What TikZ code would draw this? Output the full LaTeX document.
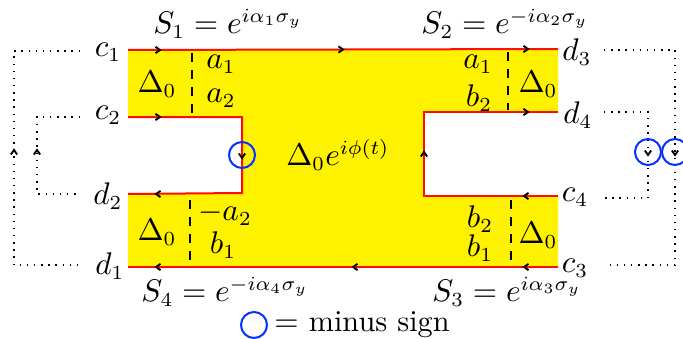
\documentclass[tikz,border=0pt]{standalone}
\begin{document}
\begin{tikzpicture}[x=0.35pt,y=-0.35pt,
  edge/.style={red!90!orange, line width=0.7pt},
  loop/.style={dotted, line width=0.5pt},
  divider/.style={dashed, line width=0.6pt},
  sign/.style={draw=blue!80!cyan, line width=0.7pt, circle, minimum size=26*0.35pt, inner sep=0pt},
  lbl/.style={inner sep=1pt, font=\fontsize{10.6pt}{13pt}\selectfont}]
\useasboundingbox (0,0) rectangle (683,338);
\newcommand{\chev}[2]{\draw[black, line width=0.65pt] (#1) ++(#2+145:5.5) -- (#1) -- ++(#2-145:5.5);}
% region
\fill[yellow] (128,50) -- (558,49) -- (558,112) -- (424,112) -- (424,196) -- (558,196)
  -- (558,267) -- (128,267) -- (128,194) -- (242,193) -- (242,117) -- (128,117) -- cycle;
\coordinate (tl) at (128,50); \coordinate (tr) at (558,49);
\coordinate (bl) at (128,267); \coordinate (br) at (558,267);
\coordinate (n1) at (128,117); \coordinate (n2) at (242,117);
\coordinate (n3) at (242,193); \coordinate (n4) at (128,194);
\coordinate (m1) at (558,112); \coordinate (m2) at (424,112);
\coordinate (m3) at (424,196); \coordinate (m4) at (558,196);
\draw[edge] (tl) -- (tr);
\draw[edge] (bl) -- (br);
\draw[edge] (n1) -- (n2) -- (n3) -- (n4);
\draw[edge] (m1) -- (m2) -- (m3) -- (m4);
% arrow marks (y axis points down: 90 = down)
\chev{160,50}{0} \chev{343,49.5}{0} \chev{528,49}{0}
\chev{160,117}{0} \chev{156,194}{180}
\chev{156,267}{180} \chev{353,267}{180} \chev{524,267}{180}
\chev{528,112}{0} \chev{524,196}{180}
\chev{242,158}{90} \chev{424,152}{-90}
% dividers
\draw[divider] (192,53) -- (192,113);
\draw[divider] (190,200) -- (190,263);
\draw[divider] (508,52) -- (508,110);
\draw[divider] (511,200) -- (511,263);
% labels inside
\node[lbl] (D1) at (157,84) {$\Delta_0$};
\node[lbl] (D2) at (157,232) {$\Delta_0$};
\node[lbl] (D3) at (538,84) {$\Delta_0$};
\node[lbl] (D4) at (538,235) {$\Delta_0$};
\node[lbl] (la1) at (221,64) {$a_1$};
\node[lbl] (la2) at (221,98) {$a_2$};
\node[lbl] (lma2) at (225,214) {$-a_2$};
\node[lbl] (lb1) at (223,245) {$b_1$};
\node[lbl] (ra1) at (478,64) {$a_1$};
\node[lbl] (rb2) at (479,98) {$b_2$};
\node[lbl] (rb2b) at (480,219) {$b_2$};
\node[lbl] (rb1) at (480,248) {$b_1$};
\node[lbl] (mid) at (338,155) {$\Delta_0 e^{i\phi(t)}$};
% terminal labels
\node[lbl] (c1) at (108,52) {$c_1$};
\node[lbl] (c2) at (108,115) {$c_2$};
\node[lbl] (d2) at (108,196) {$d_2$};
\node[lbl] (d1) at (110,266) {$d_1$};
\node[lbl] (d3) at (577,52) {$d_3$};
\node[lbl] (d4) at (578,115) {$d_4$};
\node[lbl] (c4) at (575,197) {$c_4$};
\node[lbl] (c3) at (575,268) {$c_3$};
% S labels
\node[lbl] (S1) at (228,24) {$S_1 = e^{i\alpha_1\sigma_y}$};
\node[lbl] (S2) at (505,24) {$S_2 = e^{-i\alpha_2\sigma_y}$};
\node[lbl] (S4) at (225,292) {$S_4 = e^{-i\alpha_4\sigma_y}$};
\node[lbl] (S3) at (507,292) {$S_3 = e^{i\alpha_3\sigma_y}$};
% minus sign circles
\node[sign] (s1) at (242,155) {};
% left dotted loops
\draw[loop] (80,51) -- (14,51) -- (14,265) -- (78,265);
\draw[loop] (80,117) -- (37,117) -- (37,194) -- (80,194);
\chev{14,150}{-90} \chev{37,150}{-90}
% right dotted loops
\draw[loop] (604,50) -- (675,50) -- (675,265) -- (604,265);
\draw[loop] (604,112) -- (648,112) -- (648,198) -- (604,198);
\node[sign] (s2) at (648,152) {};
\node[sign] (s3) at (675,152) {};
\chev{648,155}{90} \chev{675,155}{90}
% legend
\node[sign] (leg) at (254,325) {};
\node[lbl, anchor=west] (legt) at (271,325) {$=$ minus sign};
\end{tikzpicture}
\end{document}
